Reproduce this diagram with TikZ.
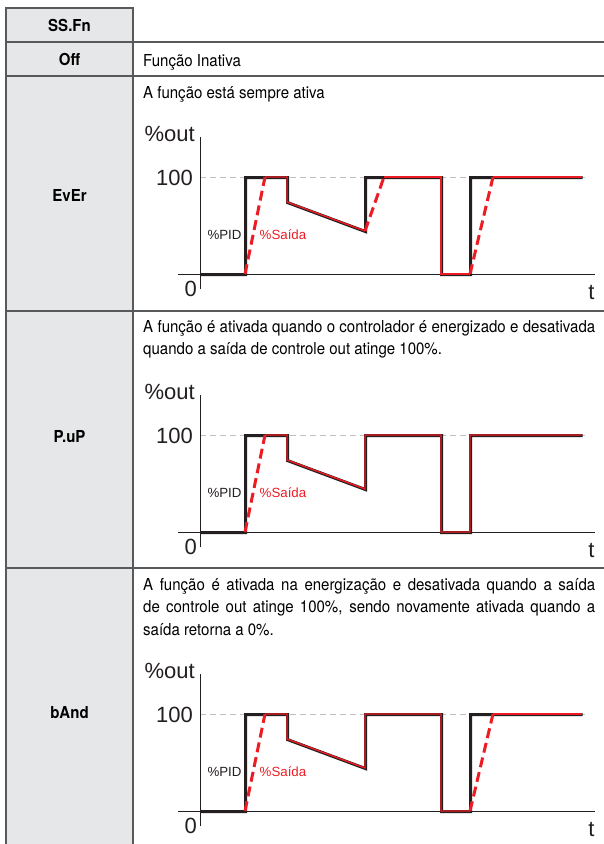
\documentclass[tikz,border=0pt]{standalone}
\usepackage{fontspec}
\setmainfont{TeX Gyre Heros}[FakeStretch=0.91]
\newfontfamily\plotfont{Liberation Sans}
\usepackage{xcolor}
\usepackage{tikz}
\usetikzlibrary{positioning}

\definecolor{linegray}{RGB}{88,89,91}
\definecolor{cellgray}{RGB}{230,231,232}
\definecolor{pidred}{RGB}{237,28,36}
\definecolor{pidblack}{RGB}{35,31,32}
\hyphenpenalty=10000
\tolerance=9999

\begin{document}
\begin{tikzpicture}[x=1pt, y=-1pt, every node/.style={inner sep=0pt},
    txt/.style={font=\fontsize{16.5}{22.5}\selectfont, anchor=north west, text width=452pt, align=justify},
    lbl/.style={font=\fontsize{16.5}{20}\selectfont\bfseries},
    ax/.style={font=\plotfont\fontsize{22}{22}\selectfont, text=pidblack},
    tag/.style={font=\plotfont\fontsize{13.3}{14}\selectfont},
    rule/.style={draw=linegray, line width=1.6pt},
    axisline/.style={draw=pidblack, line width=0.9pt},
    hline/.style={draw=black!25, line width=0.9pt, dash pattern=on 6pt off 4pt},
    pid/.style={draw=pidblack, line width=3pt, xshift=0.6pt, yshift=-0.6pt},
    outp/.style={draw=pidred, line width=1.4pt},
    ramp/.style={draw=pidred, line width=3pt, dash pattern=on 10pt off 5pt}]

        \useasboundingbox (0,0) rectangle (604,844);

        % table
        \fill[cellgray] (6,8) rectangle (133,844);
        \draw[rule] (6,844) -- (6,8) -- (133,8) -- (133,844);
        \draw[rule] (6,42) -- (604,42);
        \draw[rule] (6,76) -- (604,76);
        \draw[rule] (6,311) -- (604,311);
        \draw[rule] (6,568) -- (604,568);

        \node[lbl] (Fn) at (69.5,25) {SS.Fn};
        \node[lbl] (Off) at (69.5,59) {Off};
        \node[lbl] (Ev) at (69.5,195) {EvEr};
        \node[lbl] (Pu) at (69.5,437) {P.uP};
        \node[lbl] (Ba) at (69.5,713) {bAnd};

        \node[txt] (T0) at (143,54) {Função Inativa};
        \node[txt] (T1) at (143,86) {A função está sempre ativa};
        \node[txt] (T2) at (143,320) {A função é ativada quando o controlador é energizado e desativada\linebreak quando a saída de controle out atinge 100\%.};
        \node[txt] (T3) at (143,578) {A função é ativada na energização e desativada quando a saída\linebreak de controle out atinge 100\%, sendo novamente ativada quando a\linebreak saída retorna a 0\%.};

        % axes
        \foreach \g/\b in {1/274, 2/532, 3/811} {
            \begin{scope}[shift={(200,\b)}]
                \draw[hline] (0,-97) -- (385,-97);
                \draw[axisline] (-22,0) -- (395,0);
                \draw[axisline] (0,15) -- (0,-137);
                \node[ax, anchor=east] (Y\g) at (-5,-140) {\%out};
                \node[ax, anchor=east] (C\g) at (-7,-96) {100};
                \node[ax, anchor=east] (Z\g) at (-3,15) {0};
                \node[ax] (X\g) at (391.5,18) {t};
                \node[tag, text=pidblack] (PID\g) at (24.5,-39) {\%PID};
                \node[tag, text=pidred] (OUT\g) at (83,-39) {\%Saída};
            \end{scope}
        }

        % EvEr
        \begin{scope}[shift={(200,274)}]
            \draw[pid] (0,0) -- (45,0) -- (45,-97) -- (87,-97) -- (87,-72) -- (165,-43) -- (165,-97) -- (241,-97) -- (241,0) -- (270,0) -- (270,-97) -- (382,-97);
            \draw[outp] (65,-97) -- (87,-97) -- (87,-72) -- (165,-43);
            \draw[outp] (184,-97) -- (241,-97) -- (241,0) -- (270,0);
            \draw[outp] (293,-97) -- (382,-97);
            \draw[ramp] (45,0) -- (65,-97);
            \draw[ramp] (165,-43) -- (184,-97);
            \draw[ramp] (270,0) -- (293,-97);
        \end{scope}

        % P.uP
        \begin{scope}[shift={(200,532)}]
            \draw[pid] (0,0) -- (45,0) -- (45,-97) -- (87,-97) -- (87,-72) -- (165,-43) -- (165,-97) -- (241,-97) -- (241,0) -- (270,0) -- (270,-97) -- (382,-97);
            \draw[outp] (65,-97) -- (87,-97) -- (87,-72) -- (165,-43) -- (165,-97) -- (241,-97) -- (241,0) -- (270,0) -- (270,-97) -- (382,-97);
            \draw[ramp] (45,0) -- (65,-97);
        \end{scope}

        % bAnd
        \begin{scope}[shift={(200,811)}]
            \draw[pid] (0,0) -- (45,0) -- (45,-97) -- (87,-97) -- (87,-72) -- (165,-43) -- (165,-97) -- (241,-97) -- (241,0) -- (270,0) -- (270,-97) -- (382,-97);
            \draw[outp] (65,-97) -- (87,-97) -- (87,-72) -- (165,-43) -- (165,-97) -- (241,-97) -- (241,0) -- (270,0);
            \draw[outp] (293,-97) -- (382,-97);
            \draw[ramp] (45,0) -- (65,-97);
            \draw[ramp] (270,0) -- (293,-97);
        \end{scope}

    \end{tikzpicture}
\end{document}
